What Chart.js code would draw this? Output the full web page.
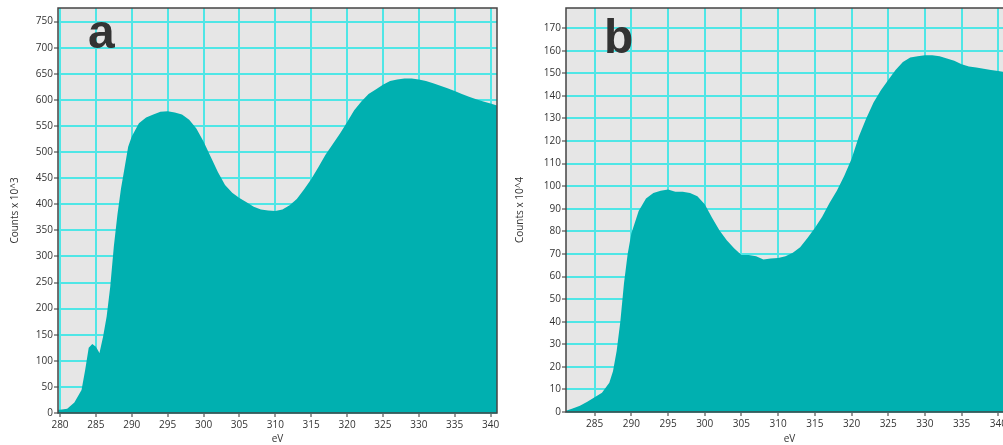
<!DOCTYPE html>
<html>
<head>
<meta charset="utf-8">
<script src="https://cdn.jsdelivr.net/npm/chart.js@4.4.0/dist/chart.umd.min.js"></script>
<style>
  html, body { margin: 0; padding: 0; background: #fff; overflow: hidden; width: 1003px; height: 445px; }
  .panel { position: absolute; top: 0; height: 445px; }
  #boxA { left: 0; width: 505px; }
  #boxB { left: 505px; width: 520px; }
</style>
</head>
<body>
<div class="panel" id="boxA"><canvas id="chartA"></canvas></div>
<div class="panel" id="boxB"><canvas id="chartB"></canvas></div>
<script>
// panel a - counts x 10^3
const evA = [279.5, 280, 281, 282, 283, 283.5, 284, 284.5, 285, 285.5, 286, 286.5, 287, 287.5, 288, 288.5, 289, 289.5, 290,
  291, 292, 293, 294, 295, 296, 297, 298, 299, 300, 301, 302, 303, 304, 305, 306, 307, 308, 309, 310,
  311, 312, 313, 314, 315, 316, 317, 318, 319, 320, 321, 322, 323, 324, 325, 326, 327, 328, 329, 330,
  331, 332, 333, 334, 335, 336, 337, 338, 339, 340, 341];
const countsA = [6, 6, 8, 20, 44, 82, 125, 132, 127, 115, 146, 185, 242, 319, 380, 430, 470, 510, 530,
  555, 566, 572, 577, 578, 576, 572, 562, 545, 520, 491, 462, 437, 422, 412, 404, 395, 390, 388, 387,
  390, 398, 410, 428, 448, 471, 495, 515, 535, 557, 580, 597, 611, 620, 629, 636, 639, 641, 641, 639,
  636, 632, 627, 622, 617, 611, 606, 601, 597, 593, 589];

// panel b - counts x 10^4
const evB = [281, 282, 283, 284, 285, 286, 287, 287.5, 288, 288.5, 289, 289.5, 290,
  291, 292, 293, 294, 295, 296, 297, 298, 299, 300, 301, 302, 303, 304, 305, 306, 307, 308, 309, 310,
  311, 312, 313, 314, 315, 316, 317, 318, 319, 320, 321, 322, 323, 324, 325, 326, 327, 328, 329, 330,
  331, 332, 333, 334, 335, 336, 337, 338, 339, 340, 341, 342];
const countsB = [0.5, 1.5, 2.8, 4.5, 6.5, 8.5, 13, 18, 27, 40, 57, 70, 79,
  89, 94.5, 97, 98, 98.5, 97.5, 97.5, 97, 95.5, 92, 86, 80.5, 76, 72.5, 69.5, 69.5, 69, 67.5, 68, 68.2,
  69, 70.5, 73, 77, 81.5, 86.5, 92.5, 98, 104.5, 112, 122, 130, 137, 142.5, 147, 151.5, 155, 157, 157.5, 158,
  158, 157.5, 156.5, 155.5, 154, 153, 152.5, 152, 151.5, 151, 150.5, 150];

const xTicksA = [280, 285, 290, 295, 300, 305, 310, 315, 320, 325, 330, 335, 340];
const yTicksA = [0, 50, 100, 150, 200, 250, 300, 350, 400, 450, 500, 550, 600, 650, 700, 750];
const xTicksB = [285, 290, 295, 300, 305, 310, 315, 320, 325, 330, 335, 340];
const yTicksB = [0, 10, 20, 30, 40, 50, 60, 70, 80, 90, 100, 110, 120, 130, 140, 150, 160, 170];

const fillColor = '#00b0b0';
const gridColor = '#4fe6e6';
const textColor = '#333';
const font = { family: "'Open Sans', 'Liberation Sans', sans-serif", size: 10 };

const panelDecor = {
  id: 'panelDecor',
  beforeDraw(chart) {
    const a = chart.chartArea, ctx = chart.ctx;
    ctx.save();
    ctx.fillStyle = '#e6e6e6';
    ctx.fillRect(a.left, a.top, a.right - a.left, a.bottom - a.top);
    ctx.restore();
  },
  afterDatasetsDraw(chart, args, opts) {
    const a = chart.chartArea, ctx = chart.ctx;
    ctx.save();
    ctx.strokeStyle = '#444';
    ctx.lineWidth = 1.5;
    ctx.strokeRect(a.left, a.top, a.right - a.left, a.bottom - a.top);
    ctx.fillStyle = textColor;
    ctx.font = "bold 48px 'Liberation Sans', Arial, sans-serif";
    ctx.textBaseline = 'alphabetic';
    ctx.fillText(opts.letter, a.left + opts.dx, opts.baseline);
    ctx.restore();
  }
};

function makeChart(id, ev, counts, cfg) {
  const points = ev.map((x, i) => ({ x: x, y: counts[i] }));
  return new Chart(document.getElementById(id), {
    type: 'line',
    data: {
      datasets: [{
        data: points,
        borderWidth: 0,
        pointRadius: 0,
        backgroundColor: fillColor,
        fill: 'origin',
        tension: 0
      }]
    },
    options: {
      responsive: true,
      maintainAspectRatio: false,
      animation: false,
      layout: { padding: { top: 8, right: cfg.padRight, left: 0, bottom: 0 } },
      plugins: {
        legend: { display: false },
        tooltip: { enabled: false },
        panelDecor: { letter: cfg.letter, dx: cfg.letterDx, baseline: cfg.letterBaseline }
      },
      scales: {
        x: {
          type: 'linear',
          min: cfg.xMin,
          max: cfg.xMax,
          afterBuildTicks: s => { s.ticks = cfg.xTicks.map(v => ({ value: v })); },
          afterFit: s => { s.height = cfg.xHeight; },
          grid: { color: gridColor, lineWidth: 2, tickColor: '#333', tickLength: 4, tickWidth: 1 },
          border: { display: false },
          ticks: { color: textColor, font: font, padding: 2, maxRotation: 0, autoSkip: false },
          title: { display: true, text: 'eV', color: textColor, font: font, padding: 0 }
        },
        y: {
          type: 'linear',
          min: 0,
          max: cfg.yMax,
          afterBuildTicks: s => { s.ticks = cfg.yTicks.map(v => ({ value: v })); },
          afterFit: s => { s.width = cfg.yWidth; },
          grid: { color: gridColor, lineWidth: 2, tickColor: '#333', tickLength: 4, tickWidth: 1 },
          border: { display: false },
          ticks: { color: textColor, font: font, padding: 1, autoSkip: false },
          title: { display: true, text: cfg.yTitle, color: textColor, font: font, padding: { top: 9, bottom: 0 } }
        }
      }
    },
    plugins: [panelDecor]
  });
}

makeChart('chartA', evA, countsA, {
  xMin: 279.72, xMax: 340.9, yMax: 776, xTicks: xTicksA, yTicks: yTicksA,
  xHeight: 32, yWidth: 58, padRight: 8, yTitle: 'Counts x 10^3',
  letter: 'a', letterDx: 30, letterBaseline: 48
});

makeChart('chartB', evB, countsB, {
  xMin: 281.1, xMax: 342, yMax: 178.9, xTicks: xTicksB, yTicks: yTicksB,
  xHeight: 33, yWidth: 61, padRight: 12, yTitle: 'Counts x 10^4',
  letter: 'b', letterDx: 38, letterBaseline: 53
});
</script>
</body>
</html>
